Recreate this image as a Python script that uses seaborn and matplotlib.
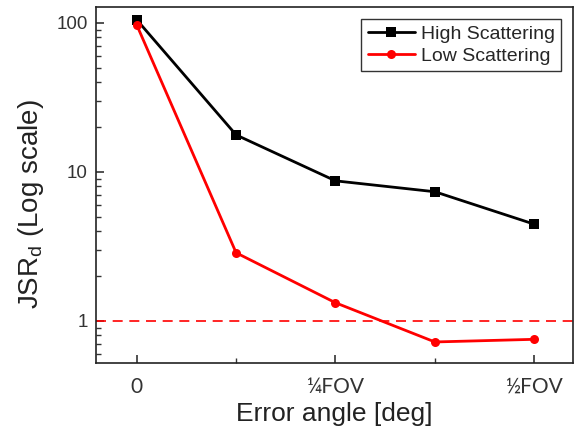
import matplotlib
matplotlib.use("Agg")
import matplotlib.pyplot as plt
import seaborn as sns
import pandas as pd
from matplotlib.ticker import FixedLocator, LogLocator, NullFormatter

x_pos = [0, 1, 2, 3, 4]
high_scattering = [105, 17.7, 8.7, 7.35, 4.45]
low_scattering = [97, 2.86, 1.32, 0.72, 0.75]
threshold = 1.0
x_tick_pos = [0, 2, 4]
x_tick_labels = ["0", "¼FOV", "½FOV"]

sns.set_style("ticks")
plt.rcParams['font.family'] = ['Liberation Sans', 'DejaVu Sans']
plt.rcParams['xtick.direction'] = 'in'
plt.rcParams['ytick.direction'] = 'in'

df_h = pd.DataFrame({"x": x_pos, "y": high_scattering})
df_l = pd.DataFrame({"x": x_pos, "y": low_scattering})

fig = plt.figure(figsize=(5.79, 4.37), dpi=100)
ax = fig.add_axes([96/579, 1-363/437, (573-96)/579, (363-7)/437])

sns.lineplot(data=df_h, x="x", y="y", ax=ax, color="black", marker="s",
             markersize=6.5, markeredgewidth=0, linewidth=2, label="High Scattering")
sns.lineplot(data=df_l, x="x", y="y", ax=ax, color="#ff0000", marker="o",
             markersize=6.5, markeredgewidth=0, linewidth=2, label="Low Scattering")
ax.axhline(threshold, color="#ff0000", linestyle=(0, (6, 4)), linewidth=1.2)

ax.set_yscale("log")
ax.set_ylim(0.52, 128)
ax.set_xlim(-0.41, 4.39)
ax.xaxis.set_major_locator(FixedLocator(x_tick_pos))
ax.set_xticklabels(x_tick_labels, family=['Lato', 'DejaVu Sans'], fontsize=15)
ax.xaxis.set_minor_locator(FixedLocator([1, 3]))
ax.yaxis.set_minor_locator(LogLocator(base=10, subs=range(2, 10), numticks=20))
ax.yaxis.set_minor_formatter(NullFormatter())
ax.set_yticks([1, 10, 100])
ax.set_yticklabels(["1", "10", "100"], fontsize=13.5)

ax.tick_params(axis='both', which='major', length=6, width=1.2, colors='#333333', labelcolor='#333333')
ax.tick_params(axis='both', which='minor', length=3.5, width=1.0, colors='#333333')
ax.tick_params(axis='x', pad=10)
ax.tick_params(axis='y', pad=6)
for s in ax.spines.values():
    s.set_linewidth(1.2)
    s.set_color('#222222')

ax.set_xlabel("Error angle [deg]", fontsize=19, color='#222222', labelpad=4)
ax.set_ylabel("JSR$_\\mathregular{d}$ (Log scale)", fontsize=20, color='#222222')
ax.yaxis.set_label_coords(-0.105, 0.445)

leg = ax.legend(loc="upper right", fontsize=14, frameon=True, fancybox=False,
                edgecolor="black", handlelength=2.4, handletextpad=0.3,
                borderpad=0.35, labelspacing=0.2, borderaxespad=0.6)
leg.get_frame().set_linewidth(1.0)

fig.savefig("out.png", dpi=100)
